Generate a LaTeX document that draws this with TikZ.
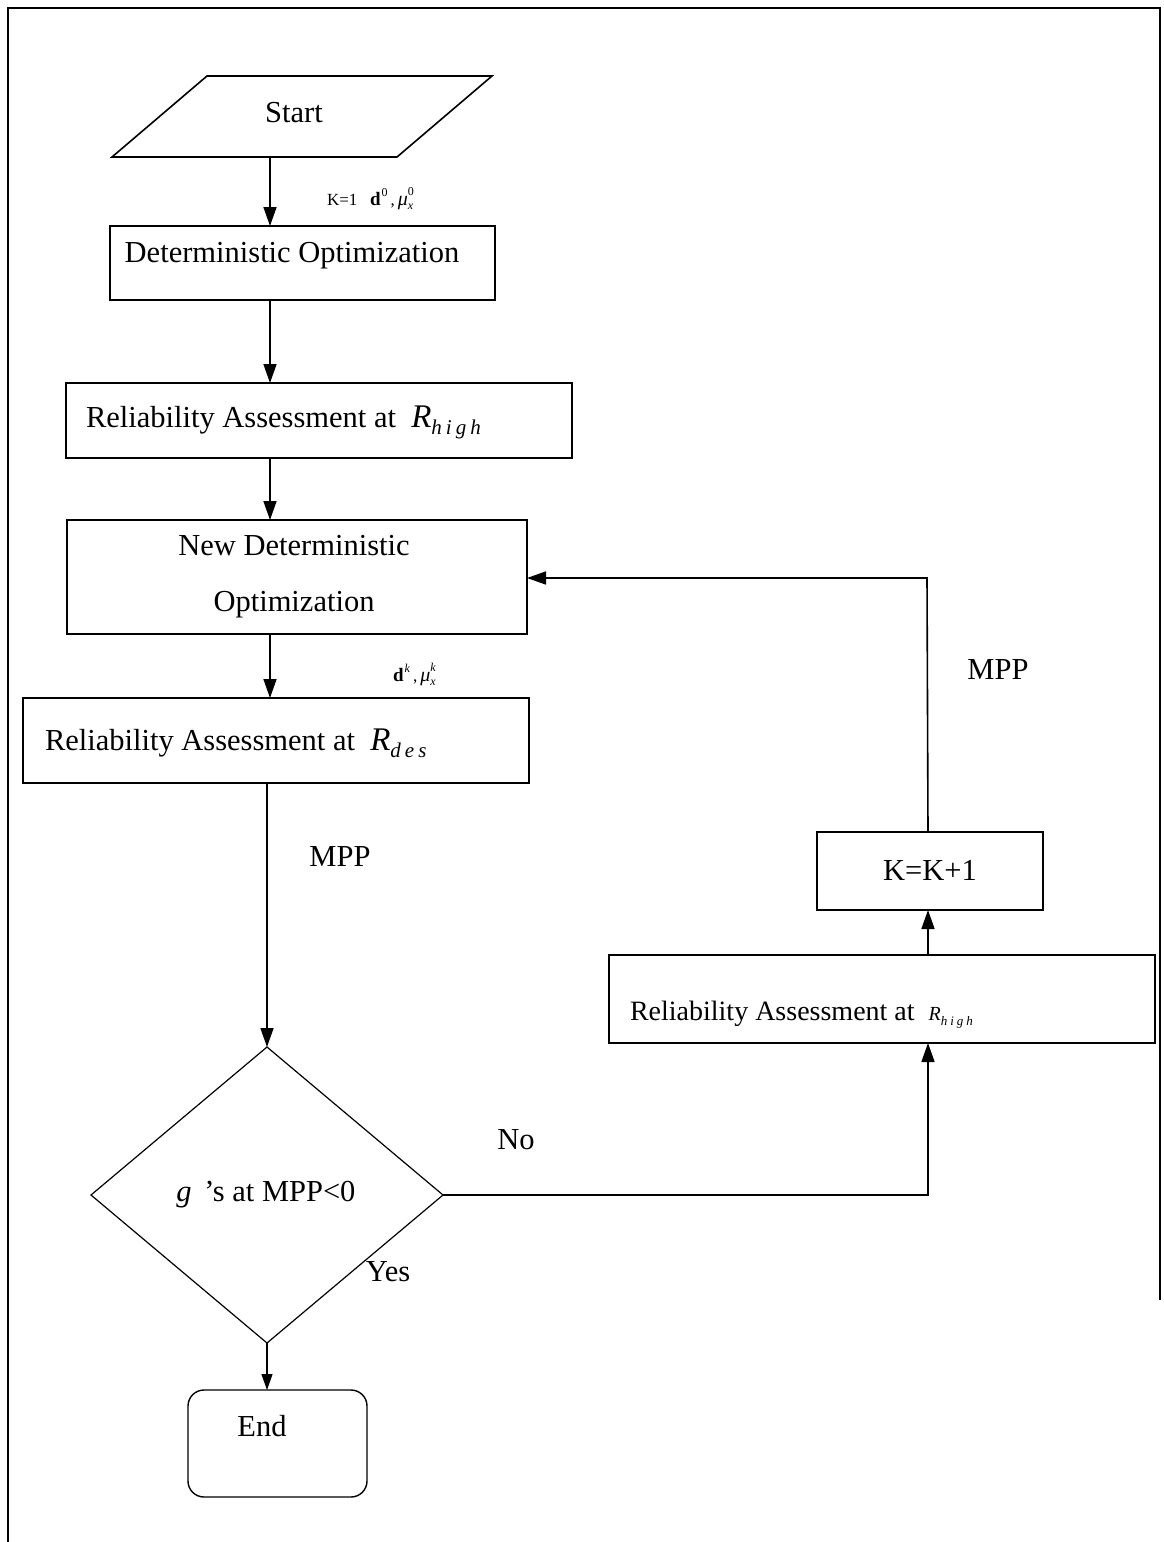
\documentclass[tikz,border=0pt]{standalone}
\usepackage{fontspec}
\setmainfont{Liberation Serif}
\usetikzlibrary{arrows.meta,shapes.geometric}
\newcommand{\mysupsub}[3]{\makebox[0pt][l]{\raisebox{0.55em}{\fontsize{#3}{#3}\selectfont #1}}\raisebox{-0.25em}{\fontsize{#3}{#3}\selectfont #2}}
\begin{document}
\begin{tikzpicture}[x=1pt,y=-1pt,
  box/.style={draw, line width=1.6pt, inner sep=0pt, outer sep=0pt},
  txt/.style={inner sep=0pt, outer sep=0pt, font=\fontsize{30.5}{36}\selectfont},
  small/.style={inner sep=0pt, outer sep=0pt, font=\fontsize{17}{20}\selectfont},
  conn/.style={line width=1.6pt},
  arr/.style={conn, -{Triangle[length=19pt,width=13pt]}},
]
\useasboundingbox (0,0) rectangle (1164,1542);
% frame
\draw[line width=1.5pt] (8,1542) -- (8,8) -- (1160,8) -- (1160,1300);

% Start
\draw[line width=1.6pt] (207,76) -- (492,76) -- (397,157) -- (112,157) -- cycle;
\node[txt] (start) at (294,113) {Start};
\coordinate (startb) at (270,157);

% Deterministic optimization
\node[box, minimum width=385, minimum height=74] (det) at (302.5,263) {};
\node[txt] (dett) at (292,256) {Deterministic Optimization};
\node[small, anchor=base west] (k1) at (327,205) {K=1\ \ \ {\fontsize{19}{20}\selectfont\textbf{d}}\hspace{1pt}\raisebox{0.5em}{\fontsize{12}{12}\selectfont 0}\hspace{3pt},\hspace{3pt}{\fontsize{20}{20}\selectfont\textit{μ}}\mysupsub{0}{\textit{x}}{12}};

% Reliability at R_high
\node[box, minimum width=506, minimum height=75] (rel1) at (319,420.5) {};
\node[txt, anchor=base west] (rel1t) at (86,427) {Reliability Assessment at \ \textit{\fontsize{33}{36}\selectfont R}\raisebox{-7pt}{\fontsize{21}{24}\selectfont\textit{h\hspace{4pt}i\hspace{4pt}g\hspace{4pt}h}}};

% New deterministic optimization
\node[box, minimum width=460, minimum height=114] (newdet) at (297,577) {};
\node[txt, align=center, font=\fontsize{30.5}{56}\selectfont] (newdett) at (294,577) {New Deterministic\\Optimization};
\node[small, anchor=base west] (dk) at (393,681) {{\fontsize{19}{20}\selectfont\textbf{d}}\hspace{1pt}\raisebox{0.5em}{\fontsize{12}{12}\selectfont\textit{k}}\hspace{3pt},\hspace{3pt}{\fontsize{20}{20}\selectfont\textit{μ}}\mysupsub{\textit{k}}{\textit{x}}{12}};

% Reliability at R_des
\node[box, minimum width=506, minimum height=85] (rdes) at (276,740.5) {};
\node[txt, anchor=base west] (rdest) at (45,750) {Reliability Assessment at \ \textit{\fontsize{33}{36}\selectfont R}\raisebox{-7pt}{\fontsize{21}{24}\selectfont\textit{d\hspace{4pt}e\hspace{4pt}s}}};

% decision
\node[draw, diamond, line width=1.2pt, minimum width=352, minimum height=296, inner sep=0pt, outer sep=0pt] (dia) at (267,1195) {};
\node[txt] (diat) at (266,1195) {\textit{g} \,’s at MPP<0};

% End
\node[draw, line width=1.4pt, rounded corners=16pt, minimum width=179, minimum height=107, inner sep=0pt, outer sep=0pt] (endb) at (277.5,1443.5) {};
\node[txt] (endt) at (262,1426) {End};

% right branch
\node[box, minimum width=546, minimum height=88] (rel2) at (882,999) {};
\node[txt, anchor=base west, font=\fontsize{28}{34}\selectfont] (rel2t) at (630,1020) {Reliability Assessment at \ \textit{\fontsize{20}{24}\selectfont R}\raisebox{-5pt}{\fontsize{13}{16}\selectfont\textit{h\hspace{3pt}i\hspace{3pt}g\hspace{3pt}h}}};
\node[box, minimum width=226, minimum height=78] (kbox) at (930,871) {};
\node[txt] (kt) at (930,870) {K=K+1};

\coordinate (noc) at (928,1195);
\coordinate (mppc) at (927,578);

% connectors
\draw[arr] (startb) -- (startb |- det.north);
\draw[arr] (startb |- det.south) -- (startb |- rel1.north);
\draw[arr] (startb |- rel1.south) -- (startb |- newdet.north);
\draw[arr] (startb |- newdet.south) -- (startb |- rdes.north);
\draw[arr] (dia.north |- rdes.south) -- (dia.north);
\draw[arr, line width=1.2pt, -{Triangle[length=16pt,width=11pt]}] (dia.south) -- (dia.south |- endb.north);
\draw[arr] (dia.east) -- (noc) -- (noc |- rel2.south);
\draw[arr] (noc |- rel2.north) -- (noc |- kbox.south);
\draw[arr] (noc |- kbox.north) -- (mppc) -- (mppc -| newdet.east);

% labels
\node[txt] (mpp1) at (340,857) {MPP};
\node[txt] (mpp2) at (998,670) {MPP};
\node[txt] (no) at (516,1140) {No};
\node[txt] (yes) at (388,1272) {Yes};
\end{tikzpicture}
\end{document}
